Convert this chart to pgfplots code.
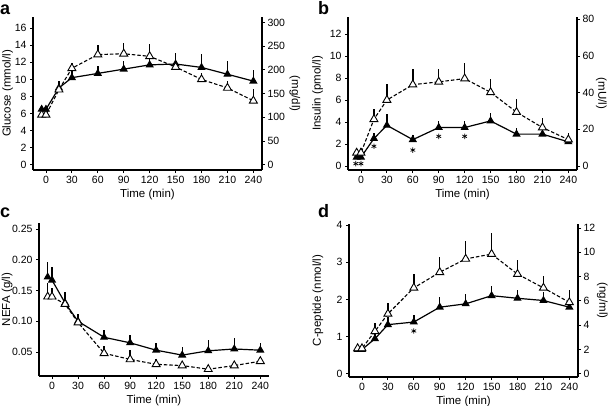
\documentclass[border=0pt]{standalone}
\usepackage{pgfplots}
\pgfplotsset{compat=1.18}
\usepackage{fontspec}
\setmainfont{Liberation Sans}

\pgfplotsset{
  base/.style={
    scale only axis, width=229pt, height=153pt,
    xmin=-15, xmax=250,
    tick align=outside, major tick length=3pt,
    tick style={black, line width=0.8pt},
    axis line style={-, line width=1.1pt},
    tick label style={font=\fontsize{10.5}{12}\selectfont},
    label style={font=\fontsize{11.5}{13}\selectfont},
    /pgf/number format/assume math mode=true,
    clip=false,
  },
  panel/.style={base,
    axis x line*=bottom, axis y line*=left,
    xtick={0,30,...,240}, xlabel={Time (min)},
    xlabel style={yshift=2pt},
  },
  rightax/.style={base,
    axis x line=none, axis y line*=right,
    yticklabel style={xshift=-1pt},
  },
  filled/.style={black, line width=1.2pt,
    mark=triangle*, mark size=3.6pt, mark options={solid, fill=black},
    error bars/.cd, y dir=plus, y explicit, error mark=none,
    error bar style={line width=1.4pt, solid}},
  open/.style={black, line width=1.1pt, dash pattern=on 3.5pt off 2pt,
    mark=triangle*, mark size=4.6pt, mark options={solid, fill=white, line width=0.9pt},
    error bars/.cd, y dir=plus, y explicit, error mark=none,
    error bar style={line width=1.4pt, solid}},
  stars/.style={only marks, black, mark=asterisk, mark size=2.7pt, mark options={line width=0.7pt}},
}
\tikzset{
  llab/.style={rotate=90, anchor=north, inner sep=0pt, font=\fontsize{11.5}{13}\selectfont},
  rlab/.style={rotate=-90, anchor=north, inner sep=0pt, font=\fontsize{11.5}{13}\selectfont},
}

\begin{document}
\begin{tikzpicture}
\path[use as bounding box] (0,0) rectangle (609pt,-406pt);

% panel letters
\node[anchor=base west, font=\bfseries\fontsize{18}{18}\selectfont, inner sep=0] at (0pt,-15pt) {a};
\node[anchor=base west, font=\bfseries\fontsize{18}{18}\selectfont, inner sep=0] at (318pt,-15pt) {b};
\node[anchor=base west, font=\bfseries\fontsize{18}{18}\selectfont, inner sep=0] at (0pt,-217pt) {c};
\node[anchor=base west, font=\bfseries\fontsize{18}{18}\selectfont, inner sep=0] at (318pt,-217pt) {d};

% ---- a: glucose
\begin{axis}[panel, at={(33pt,-170pt)}, anchor=south west,
  ymin=-0.6, ymax=17.3, ytick={0,2,...,16}]
\addplot[filled] table[x=x, y=y, y error=e] {
x y e
-5 6.5 0.3
0 6.5 0.3
15 9.0 0.8
30 10.2 1.0
60 10.7 0.9
90 11.2 1.0
120 11.7 0.9
150 11.8 1.3
180 11.4 1.6
210 10.6 1.5
240 9.8 1.3
};
\addplot[open] table[x=x, y=y, y error=e] {
x y e
-5 5.85 0.4
0 5.85 0.4
15 8.8 0.8
30 11.3 0.6
60 12.9 1.1
90 13.0 1.25
120 12.7 1.4
150 11.45 0.8
180 10.0 0.8
210 9.0 0.8
240 7.5 1.4
};
\node[llab] at (axis description cs:-0.135,0.5) {Glucose (mmol/l)};
\node[rlab] at (axis description cs:1.168,0.5) {(mg/dl)};
\end{axis}
\begin{axis}[rightax, at={(33pt,-170pt)}, anchor=south west,
  ymin=-10.8, ymax=311.4, ytick={0,50,...,300}]
\end{axis}

% ---- b: insulin
\begin{axis}[panel, at={(348pt,-170pt)}, anchor=south west,
  ymin=-0.36, ymax=13.55, ytick={0,2,...,12}]
\addplot[filled] table[x=x, y=y, y error=e] {
x y e
-5 0.8 0.2
0 0.8 0.2
15 2.5 0.5
30 3.7 1.0
60 2.4 0.4
90 3.5 0.6
120 3.5 0.55
150 4.1 0.7
180 2.9 0.55
210 2.9 0.4
240 2.2 0.3
};
\addplot[open] table[x=x, y=y, y error=e] {
x y e
-5 1.2 0.4
0 1.2 0.4
15 4.25 0.95
30 6.0 1.45
60 7.4 1.4
90 7.65 1.15
120 7.95 1.45
150 6.7 1.2
180 4.9 1.2
210 3.5 0.9
240 2.4 0.6
};
\addplot[stars] coordinates {(-6,0.22) (0,0.22) (15,1.8) (60,1.45) (90,2.7) (120,2.7)};
\node[llab] at (axis description cs:-0.157,0.5) {Insulin (pmol/l)};
\node[rlab] at (axis description cs:1.131,0.5) {(mU/l)};
\end{axis}
\begin{axis}[rightax, at={(348pt,-170pt)}, anchor=south west,
  ymin=-2.16, ymax=81.3, ytick={0,20,...,80}]
\end{axis}

% ---- c: NEFA
\begin{axis}[panel, at={(39pt,-376pt)}, anchor=south west, width=230pt,
  ymin=0.011, ymax=0.26, ytick={0.05,0.10,...,0.25},
  yticklabel style={/pgf/number format/.cd, fixed, fixed zerofill, precision=2}]
\addplot[filled] table[x=x, y=y, y error=e] {
x y e
-5 0.172 0.024
0 0.167 0.021
15 0.130 0.010
30 0.100 0.008
60 0.074 0.012
90 0.065 0.0125
120 0.053 0.011
150 0.045 0.0135
180 0.052 0.017
210 0.055 0.0185
240 0.053 0.012
};
\addplot[open] table[x=x, y=y, y error=e] {
x y e
-5 0.140 0.022
0 0.140 0.015
15 0.128 0.019
30 0.098 0.014
60 0.048 0.012
90 0.038 0.015
120 0.030 0.008
150 0.028 0.006
180 0.022 0.006
210 0.028 0.006
240 0.035 0.006
};
\node[llab] at (axis description cs:-0.163,0.5) {NEFA (g/l)};
\end{axis}

% ---- d: C-peptide
\begin{axis}[panel, at={(349pt,-377pt)}, anchor=south west,
  ymin=-0.09, ymax=4.03, ytick={0,1,...,4}]
\addplot[filled] table[x=x, y=y, y error=e] {
x y e
-5 0.65 0.05
0 0.65 0.05
15 0.94 0.15
30 1.32 0.2
60 1.39 0.2
90 1.79 0.28
120 1.88 0.26
150 2.10 0.27
180 2.03 0.23
210 1.97 0.22
240 1.79 0.2
};
\addplot[open] table[x=x, y=y, y error=e] {
x y e
-5 0.68 0.05
0 0.68 0.05
15 1.14 0.22
30 1.61 0.3
60 2.31 0.37
90 2.73 0.4
120 3.09 0.48
150 3.22 0.57
180 2.68 0.37
210 2.31 0.33
240 1.92 0.33
};
\addplot[stars] coordinates {(60,1.15)};
\node[llab] at (axis description cs:-0.16,0.5) {C-peptide (nmol/l)};
\node[rlab] at (axis description cs:1.131,0.5) {(ng/ml)};
\end{axis}
\begin{axis}[rightax, at={(349pt,-377pt)}, anchor=south west,
  ymin=-0.275, ymax=12.33, ytick={0,2,...,12}]
\end{axis}

\end{tikzpicture}
\end{document}
